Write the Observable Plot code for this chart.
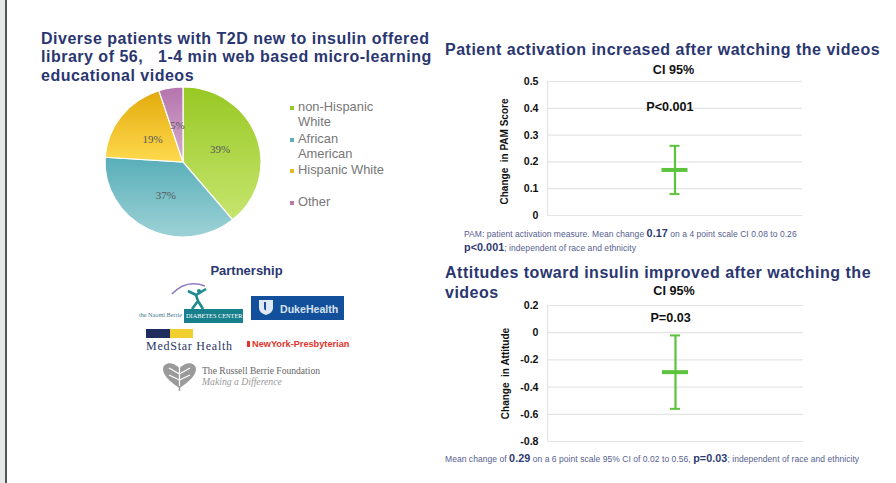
<!DOCTYPE html>
<html><head><meta charset="utf-8">
<script src="https://cdn.jsdelivr.net/npm/d3@7"></script>
<script src="https://cdn.jsdelivr.net/npm/@observablehq/plot@0.6"></script>
<style>
html,body{margin:0;padding:0;background:#fff;width:896px;height:483px;overflow:hidden;font-family:"Liberation Sans",Arial,sans-serif}
#page{position:relative;width:896px;height:483px;overflow:hidden}
.t{position:absolute;white-space:pre;line-height:1}
.h{font-weight:700;font-size:16px;color:#2a3670;letter-spacing:.5px}
.b{font-weight:700;color:#111;font-size:12.6px}
.n{font-size:8.5px;color:#56608f;letter-spacing:.05px}
.n b{font-size:10.8px;color:#2f3a73}
.l{font-size:12.9px;color:#777}
svg{position:absolute;overflow:visible}
#pie text{font-family:"Liberation Serif","Times New Roman",serif !important}
</style></head><body><div id="page"></div>
<script>
const groups = ["non-Hispanic\nWhite","African\nAmerican","Hispanic White","Other"];
const shares = [39,37,19,5];
const gradTop = ["#98c824","#58aeb8","#e2ab0c","#b574ae"];
const gradBottom = ["#c6e56e","#9dd2d6","#ffd94e","#d6acce"];
const legendColors = ["#98c828","#5bb0ba","#e8b820","#b878b0"];
const legendY = [107,139,170,202];

const pamTicks = [0,0.1,0.2,0.3,0.4,0.5];
const pamCI = {group:"PAM", mean:0.17, low:0.08, high:0.26};
const attTicks = [-0.8,-0.6,-0.4,-0.2,0,0.2];
const attCI = {group:"Attitude", mean:-0.29, low:-0.02, high:-0.56};

const page = document.getElementById("page");
function put(html, x, y, cls, center){
  const d = document.createElement("div");
  d.className = "t " + cls; d.innerHTML = html;
  d.style.left = x + "px"; d.style.top = y + "px";
  d.style.transform = center ? "translate(-50%,-50%)" : "translateY(-50%)";
  page.appendChild(d); return d;
}
function box(x,y,w,h,bg){
  const d=document.createElement("div");
  d.style.cssText=`position:absolute;left:${x}px;top:${y}px;width:${w}px;height:${h}px;background:${bg}`;
  page.appendChild(d); return d;
}
function icon(x,y,w,h,vb,inner){
  const d=document.createElement("div");
  d.style.cssText=`position:absolute;left:${x}px;top:${y}px;width:${w}px;height:${h}px`;
  d.innerHTML=`<svg width="${w}" height="${h}" viewBox="${vb}" style="position:static;display:block">${inner}</svg>`;
  page.appendChild(d);
}

// window edge
box(0,0,5,483,"#e6e7e8"); box(5,0,2,483,"#555");

// Headings
put("Diverse patients with T2D new to insulin offered",41,38.5,"h");
put("library of 56,   1-4 min web based micro-learning",41,57,"h");
put("educational videos",41,76,"h");
put("Patient activation increased after watching the videos",445,49.5,"h");
put("Attitudes toward insulin improved after watching the",445,272.5,"h");
put("videos",445,293,"h");

// Pie
const rx = 78, ry = 75, cx = 182.5, cy = 162, pad = 7;
const arcs = d3.pie().sort(null).value(d=>d)(shares);
const unitArc = d3.arc().innerRadius(0).outerRadius(1);
const pieLabels = arcs.map((a,i)=>{ const [px,py]=unitArc.centroid(a); return {x:px, y:-py, label:shares[i]+"%"}; });
const pie = Plot.plot({
  width:2*(rx+pad), height:2*(ry+pad), margin:pad,
  style:{background:"none"},
  x:{domain:[-1,1],axis:null}, y:{domain:[-1,1],axis:null},
  marks:[
    (index, scales) => {
      const ns="http://www.w3.org/2000/svg";
      const g=document.createElementNS(ns,"g");
      const defs=document.createElementNS(ns,"defs");
      g.appendChild(defs);
      const sx=scales.x(1)-scales.x(0), sy=scales.y(-1)-scales.y(0);
      arcs.forEach((a,i)=>{
        const lg=document.createElementNS(ns,"linearGradient");
        lg.setAttribute("id","g"+i); lg.setAttribute("x1","0");lg.setAttribute("x2","0");lg.setAttribute("y1","0");lg.setAttribute("y2","1");
        [[0,gradTop[i]],[1,gradBottom[i]]].forEach(([o,c])=>{
          const s=document.createElementNS(ns,"stop");s.setAttribute("offset",o);s.setAttribute("stop-color",c);lg.appendChild(s);
        });
        defs.appendChild(lg);
        const p=document.createElementNS(ns,"path");
        p.setAttribute("d",unitArc(a));
        p.setAttribute("transform",`translate(${scales.x(0)},${scales.y(0)}) scale(${sx},${sy})`);
        p.setAttribute("fill",`url(#g${i})`);
        p.setAttribute("stroke","#fff");p.setAttribute("stroke-width","1.2");
        p.setAttribute("vector-effect","non-scaling-stroke");
        g.appendChild(p);
      });
      return g;
    },
    Plot.text(pieLabels,{x:"x",y:"y",text:"label",fontSize:11,fill:"#55595c"})
  ]
});
pie.id="pie";
pie.style.left=(cx-rx-pad)+"px"; pie.style.top=(cy-ry-pad)+"px";
page.appendChild(pie);

// Legend
groups.forEach((g,i)=>{
  box(289.5,legendY[i]-1.5,4,4,legendColors[i]);
  g.split("\n").forEach((ln,j)=>put(ln,298,legendY[i]+j*14.5,"l"));
});

// CI charts
function ciChart({ticks,ci,domain,label,labelDx,labelDy,top,bottom,left,right,pText,pY,pDx}){
  const mt=12, mb=12, ml=65, half=(right-left)/2;
  const p=Plot.plot({
    width:ml+(right-left)+10, height:(bottom-top)+mt+mb,
    marginTop:mt, marginBottom:mb, marginLeft:ml, marginRight:10,
    style:{fontFamily:"'Liberation Sans'",background:"none"},
    x:{domain:[ci.group],axis:null,padding:0},
    y:{domain,ticks},
    marks:[
      Plot.ruleY(ticks,{stroke:"#e4e4e4",strokeWidth:1.2}),
      Plot.frame({anchor:"left",stroke:"#e4e4e4",strokeWidth:1.2}),
      Plot.axisY({ticks,tickSize:0,tickPadding:9,fontWeight:"bold",fontSize:10.6,fill:"#111",label:null,
        tickFormat:d=>d===0?"0":d3.format(".1f")(d).replace("−","-")}),
      Plot.text([label],{frameAnchor:"left",textAnchor:"middle",rotate:-90,dx:labelDx,dy:labelDy,fontWeight:"bold",fontSize:10,fill:"#111",text:d=>d}),
      Plot.ruleX([ci],{x:"group",y1:"low",y2:"high",stroke:"#5cc43c",strokeWidth:2.2}),
      Plot.tickY([ci],{x:"group",y:"low",stroke:"#5cc43c",strokeWidth:2,insetLeft:half-5,insetRight:half-5}),
      Plot.tickY([ci],{x:"group",y:"high",stroke:"#5cc43c",strokeWidth:2,insetLeft:half-5,insetRight:half-5}),
      Plot.tickY([ci],{x:"group",y:"mean",stroke:"#5cc43c",strokeWidth:4,insetLeft:half-13,insetRight:half-13}),
      Plot.text([pText],{frameAnchor:"left",dx:half+pDx,textAnchor:"middle",y:()=>pY,fontWeight:"bold",fontSize:12.6,fill:"#111",text:d=>d})
    ]
  });
  p.style.left=(left-ml)+"px"; p.style.top=(top-mt)+"px";
  page.appendChild(p);
}
ciChart({ticks:pamTicks,ci:pamCI,domain:[0,0.5],label:"Change  in PAM Score",labelDx:-43,labelDy:3,top:80.5,bottom:214.5,left:547,right:802,pText:"P<0.001",pY:0.405,pDx:-5});
ciChart({ticks:attTicks,ci:attCI,domain:[-0.8,0.2],label:"Change  in Attitude",labelDx:-42,labelDy:0,top:305,bottom:441,left:547,right:803,pText:"P=0.03",pY:0.11,pDx:-5});
put("CI 95%",673.5,70,"b",true);
put("CI 95%",674,291,"b",true);

// Footnotes
put("PAM: patient activation measure. Mean change <b>0.17</b> on a 4 point scale CI 0.08 to 0.26",464,233,"n");
put("<b>p&lt;0.001</b>; independent of race and ethnicity",464,246.5,"n");
put("Mean change of <b>0.29</b> on a 6 point scale 95% CI of 0.02 to 0.56, <b>p=0.03</b>; independent of race and ethnicity",445,458,"n");

// Partnership + logos
put("Partnership",246.5,270,"b",true).style.cssText+=";color:#2a3670;font-size:13px";
put("the Naomi Berrie",139,313.5,"").style.cssText+=";font:6.2px 'Liberation Serif';color:#3c7d8c";
box(184,309,59,14,"#17808c");
put("DIABETES CENTER",186,314.5,"").style.cssText+=";font:6.3px 'Liberation Serif';color:#fff";
icon(170,280,42,30,"0 0 42 30",
  `<path d="M2 14 Q16 -1 35 6" fill="none" stroke="#8f7cc4" stroke-width="1.6"/>
   <circle cx="29" cy="11" r="2" fill="#1f8a8f"/>
   <path d="M18 11 L26 15 L36 9 M26 15 L28 21 L22 29 M28 21 L33 29" fill="none" stroke="#1f8a8f" stroke-width="2.6"/>`);
box(251,296,93,24,"#13509c");
icon(259,300,14,15,"0 0 14 15",`<path d="M0 0H14V8Q14 13 7 15Q0 13 0 8Z" fill="#dfe8f3"/><path d="M5 2V8Q5 10 7 10.5V2Z" fill="#13509c"/>`);
put("DukeHealth",280,309,"").style.cssText+=";font:700 10.6px 'Liberation Sans';color:#d7e2f0";
box(146,329,24,9,"#1f2d5e"); box(170,329,23,9,"#efd02e");
put("MedStar Health",146,346,"").style.cssText+=";font:12px 'Liberation Serif';color:#2a3566;letter-spacing:.75px";
put("NewYork-Presbyterian",252,344,"").style.cssText+=";font:700 9.2px 'Liberation Sans';color:#e2332c";
box(247,341,3,6,"#e2332c");
icon(163,362,33,29,"0 0 33 29",
  `<path d="M16.5 26 C6 19 0 13 0 7 C0 1 9 -2 16.5 6 C24 -2 33 1 33 7 C33 13 27 19 16.5 26Z" fill="#9a9a9a"/>
   <path d="M16.5 5V29M16.5 12L6 6M16.5 12L27 6M16.5 18L6 13M16.5 18L27 13" stroke="#fff" stroke-width="1.2" fill="none"/>
   <path d="M16.5 24V29" stroke="#9a9a9a" stroke-width="1.4"/>`);
put("The Russell Berrie Foundation",202,370,"").style.cssText+=";font:9.6px 'Liberation Serif';color:#666";
put("Making a Difference",202,380.5,"").style.cssText+=";font:italic 9.7px 'Liberation Serif';color:#999";
</script></body></html>
